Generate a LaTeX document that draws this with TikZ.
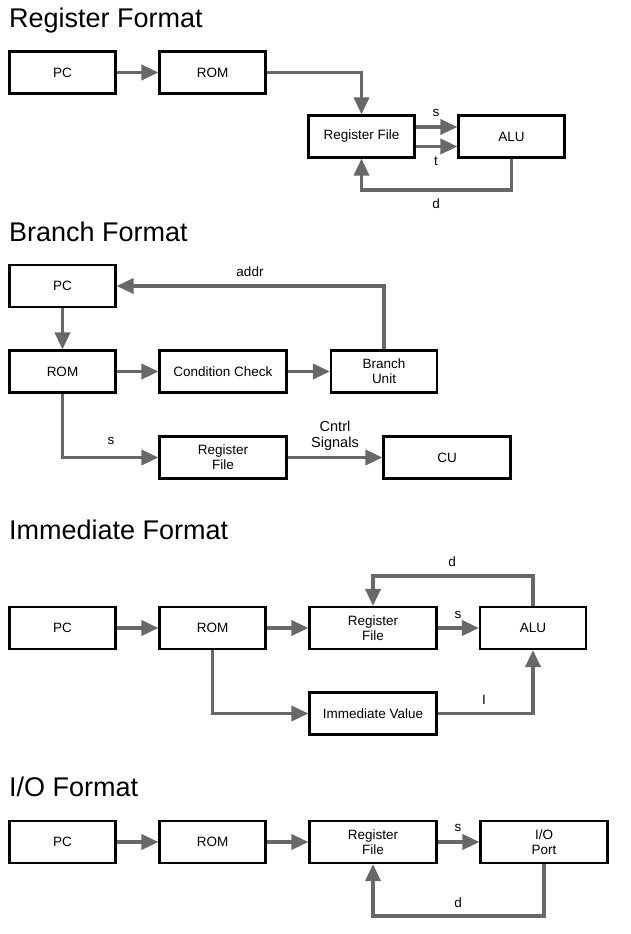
\documentclass[tikz,border=0pt]{standalone}
\usepackage{fontspec}
\setmainfont{Liberation Sans}
\usetikzlibrary{arrows.meta}
\definecolor{wiregray}{RGB}{104,104,104}

\begin{document}
\begin{tikzpicture}
  [x=1pt,y=-1pt,
   every node/.style={font=\fontsize{13.5}{15}\selectfont,inner sep=0pt,align=center},
   blk/.style={draw,line width=2.1pt,minimum width=106pt,minimum height=42pt},
   wide/.style={blk,minimum width=127pt},
   wire/.style={wiregray,line width=3.5pt,-{Triangle[length=17pt,width=15pt]}},
   ttl/.style={anchor=base west,font=\fontsize{27}{30}\selectfont}]
  \useasboundingbox (0,0) rectangle (630,934);

  % register format
  \node[ttl] (t1) at (9,28) {Register Format};
  \node[blk] (pc1) at (62.5,72.5) {PC};
  \node[blk] (rom1) at (212.5,72.5) {ROM};
  \node[blk] (rf1) at (361.5,136.5) {Register File};
  \node[blk] (alu1) at (511.5,136.5) {ALU};
  \coordinate (d1) at (436,190);
  \node (s1) at (436,113) {s};
  \node (tt1) at (436,161) {t};
  \node (dl1) at (436,204) {d};
  \draw[wire] (rom1) -| (rf1);
  \draw[wire] ([yshift=9.5pt]rf1.east) -- ([yshift=9.5pt]alu1.west);
  \draw[wire] ([yshift=-10pt]rf1.east) -- ([yshift=-10pt]alu1.west);
  \draw[wire] (alu1) |- (d1) -| (rf1);

  % branch format
  \node[ttl] (t2) at (9,241) {Branch Format};
  \node[blk] (pc2) at (62.5,286) {PC};
  \node[blk] (rom2) at (62.5,371.5) {ROM};
  \node[wide] (cc2) at (223,371.5) {Condition Check};
  \node[blk] (bu2) at (384,371.5) {Branch\\Unit};
  \node[wide] (rf2) at (223,457.5) {Register\\File};
  \node[wide] (cu2) at (447,457.5) {CU};
  \node (addr2) at (250,272) {addr};
  \node (s2) at (111,441) {s};
  \node[font=\fontsize{14.5}{16}\selectfont] (cs2) at (335,436) {Cntrl\\Signals};
  \draw[wire] (bu2) |- (pc2);
  \draw[wire] (rom2) |- (rf2);

  % immediate format
  \node[ttl] (t3) at (9,539) {Immediate Format};
  \node[blk] (pc3) at (62.5,628) {PC};
  \node[blk] (rom3) at (212.5,628) {ROM};
  \node[wide] (rf3) at (373,628) {Register\\File};
  \node[blk] (alu3) at (533,628) {ALU};
  \node[wide] (iv3) at (373,713.5) {Immediate Value};
  \coordinate (d3) at (452,576);
  \node (dl3) at (452,562) {d};
  \node (s3) at (458,615) {s};
  \node (i3) at (484,700) {I};
  \draw[wire] (alu3) |- (d3) -| (rf3);
  \draw[wire] (rom3) |- (iv3);
  \draw[wire] (iv3) -| (alu3);

  % i/o format
  \node[ttl] (t4) at (9,796) {I/O Format};
  \node[blk] (pc4) at (62.5,842) {PC};
  \node[blk] (rom4) at (212.5,842) {ROM};
  \node[wide] (rf4) at (373,842) {Register\\File};
  \node[wide] (io4) at (544,842) {I/O\\Port};
  \coordinate (d4) at (458,916);
  \node (dl4) at (458,903) {d};
  \node (s4) at (458,828) {s};
  \draw[wire] (io4) |- (d4) -| (rf4);

  \foreach \from/\to in {pc1/rom1,pc2/rom2,rom2/cc2,cc2/bu2,rf2/cu2,
                         pc3/rom3,rom3/rf3,rf3/alu3,pc4/rom4,rom4/rf4,rf4/io4}
    \draw[wire] (\from) -- (\to);
\end{tikzpicture}
\end{document}
